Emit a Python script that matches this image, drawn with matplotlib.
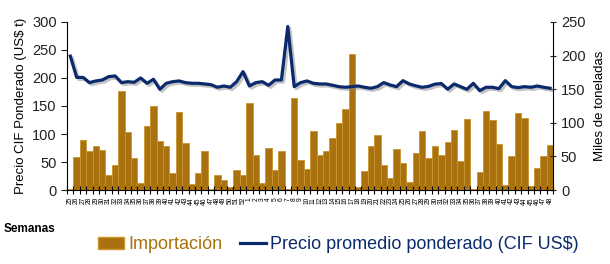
import numpy as np
import matplotlib
matplotlib.use("Agg")
import matplotlib.pyplot as plt
import matplotlib.patheffects as pe
from matplotlib.lines import Line2D
from matplotlib.patches import Patch

plt.rcParams['font.family'] = ['Liberation Sans', 'DejaVu Sans']

# semanas: 25..52 del primer año, 1..48 del siguiente
semanas = [str(w) for w in range(25, 53)] + [str(w) for w in range(1, 49)]

# importacion (miles de toneladas, eje derecho)
importacion = [2, 49.6, 75, 58.5, 65.5, 59.5, 22.8, 37.7, 147.8, 85.8,
               47.1, 10.9, 95.2, 125, 72.4, 65.5, 24.8, 116, 69.4, 8.4,
               24.8, 58.5, 1, 22.8, 14.9, 5, 29.8, 22.8, 129, 52,
               10.9, 62.5, 29.8, 57.6, 1, 136.4, 44.1, 31.2, 88.3, 52,
               57.6, 77.4, 100.2, 120.5, 202.4, 4, 27.8, 66, 81.8, 37.7,
               18.4, 61, 40, 11.8, 54.6, 87.8, 47.3, 65.7, 52.6, 71.6,
               89.3, 42.7, 105.7, 1, 27.3, 117.6, 104.2, 68, 7.4, 51.1,
               114.6, 107.6, 6.4, 32.2, 50.6, 66.4]

# precio CIF ponderado (US$/t, eje izquierdo)
precio = [239, 201, 201, 191.7, 194.7, 196.4, 202.4, 203.6, 191.7, 193.4,
          192.3, 200, 190.5, 197.7, 179.8, 190.5, 193.4, 194.7, 191.7, 190.5,
          190.5, 189.3, 188, 183.4, 185.7, 183.4, 193.4, 211.3, 185.7, 191.7,
          193.4, 187, 196.4, 196.4, 291.7, 184.5, 191.7, 194.7, 190.5, 189.3,
          189.3, 187, 184.5, 183.4, 184.5, 185.7, 183.4, 181.6, 184.5, 191.7,
          187.5, 184.5, 195.2, 189.3, 186, 183.4, 185, 189, 190, 180,
          189.3, 184.5, 179.8, 190.5, 177.4, 183.4, 183.4, 181, 195.2, 184.5,
          182.8, 184.5, 183.4, 185.7, 183.4, 181.6]

BAR = '#A9720E'
NAVY = '#0B2A6E'

fig = plt.figure(figsize=(6.1, 2.64), dpi=100)
ax = fig.add_axes([0.110, 0.280, 0.797, 0.637])
ax2 = ax.twinx()

x = np.arange(len(semanas))
ax2.bar(x, importacion, width=1.0, color=BAR, edgecolor='#C8942E', linewidth=0.6, zorder=1)
ax.plot(x, precio, color=NAVY, lw=2.3, zorder=5,
        path_effects=[pe.SimpleLineShadow(offset=(1.5, -1.5), shadow_color='#888888', alpha=0.5),
                      pe.Normal()])
ax.set_zorder(ax2.get_zorder() + 1)
ax.patch.set_visible(False)

ax.set_xlim(-0.5, len(semanas) - 0.5)
ax.set_ylim(0, 300)
ax2.set_ylim(0, 250)
ax.set_yticks(range(0, 301, 50))
ax2.set_yticks(range(0, 251, 50))

ax.set_xticks(x)
ax.set_xticklabels(semanas, rotation=90, fontsize=4.8)
ax.tick_params(axis='x', length=0, pad=5)
ax.set_xticks(np.arange(-0.5, len(semanas)), minor=True)
ax.tick_params(axis='x', which='minor', length=6, width=0.8, direction='inout')

ax.tick_params(axis='y', labelsize=10.5, length=4, width=0.8, colors='#222222')
ax2.tick_params(axis='y', labelsize=10.5, length=4, width=0.8, direction='inout', colors='#222222')

for a in (ax, ax2):
    a.spines['top'].set_visible(False)
ax.spines['right'].set_visible(False)
ax2.spines['left'].set_visible(False)
ax2.spines['bottom'].set_visible(False)

ax.set_ylabel('Precio CIF Ponderado (US$ t)', fontsize=9.5, labelpad=4)
ax2.set_ylabel('Miles de toneladas', fontsize=9.5, labelpad=6)

fig.text(0.006, 0.12, 'Semanas', fontsize=8.5, fontweight='bold')

handles = [Patch(facecolor=BAR, edgecolor='#C8942E'),
           Line2D([0], [0], color=NAVY, lw=2.3)]
fig.legend(handles, ['Importación', 'Precio promedio ponderado (CIF US$)'],
           loc='center', bbox_to_anchor=(0.555, 0.072), ncol=2, frameon=False,
           fontsize=13, labelcolor=[BAR, NAVY], handlelength=1.4,
           handletextpad=0.25, columnspacing=1.0)

fig.savefig('out.png', dpi=100)
